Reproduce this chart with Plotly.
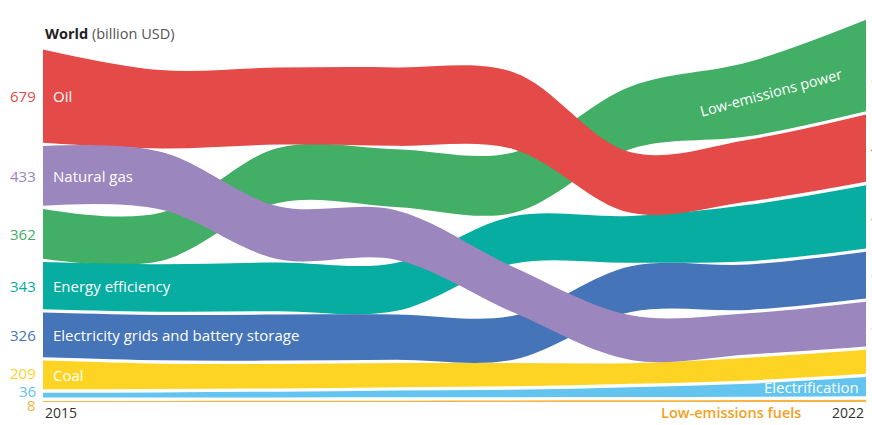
import plotly.graph_objects as go

# ---------------- data (billion USD) ----------------
years = [2015, 2016, 2017, 2018, 2019, 2020, 2021, 2022]

oil          = [679, 570, 560, 570, 560, 440, 450, 490]
natural_gas  = [433, 420, 385, 360, 330, 325, 300, 325]
low_em_power = [362, 350, 400, 420, 440, 455, 540, 665]
efficiency   = [343, 345, 355, 350, 345, 340, 410, 460]
grids        = [326, 330, 335, 330, 320, 333, 330, 340]
coal         = [209, 185, 178, 175, 170, 150, 165, 175]
electrification = [36, 38, 42, 50, 55, 72, 95, 140]
low_em_fuels = [8, 8, 9, 10, 11, 12, 14, 17]

names = ["Low-emissions power", "Energy efficiency", "Electricity grids and battery storage",
         "Coal", "Electrification", "Low-emissions fuels", "Oil", "Natural gas"]
series = {
    "Oil": oil,
    "Natural gas": natural_gas,
    "Low-emissions power": low_em_power,
    "Energy efficiency": efficiency,
    "Electricity grids and battery storage": grids,
    "Coal": coal,
    "Electrification": electrification,
    "Low-emissions fuels": low_em_fuels,
}
colors = {
    "Oil": "#e34a48",
    "Natural gas": "#9b86be",
    "Low-emissions power": "#42ae66",
    "Energy efficiency": "#06ada0",
    "Electricity grids and battery storage": "#4574b8",
    "Coal": "#fed424",
    "Electrification": "#62c4ef",
    "Low-emissions fuels": "#f6b443",
}

GAP = 24  # spacing between ribbons in value units

# rank-ordered stacking per year (largest on top)
bottoms = {n: [] for n in series}
tops = {n: [] for n in series}
for i, _ in enumerate(years):
    order = sorted(series, key=lambda n: series[n][i])
    base = 0.0
    for n in order:
        v = series[n][i]
        bottoms[n].append(base)
        tops[n].append(base + v)
        base += v + GAP

fig = go.Figure()
for n in names:
    c = colors[n]
    fig.add_trace(go.Scatter(x=years, y=bottoms[n], mode="lines",
                             line=dict(width=0, color=c, shape="spline", smoothing=1.0),
                             hoverinfo="skip", showlegend=False))
    fig.add_trace(go.Scatter(x=years, y=tops[n], mode="lines",
                             line=dict(width=0, color=c, shape="spline", smoothing=1.0),
                             fill="tonexty", fillcolor=c,
                             hoverinfo="skip", showlegend=False))

FONT = "Open Sans"
ann = []

def mid(n, i):
    return (bottoms[n][i] + tops[n][i]) / 2

# left value labels
left_shift = {"Coal": 2, "Electrification": 4, "Low-emissions fuels": -4}
for n in series:
    ann.append(dict(x=years[0], y=mid(n, 0), xref="x", yref="y", text=str(series[n][0]),
                    showarrow=False, xanchor="right", yanchor="middle", xshift=-5,
                    yshift=left_shift.get(n, 0),
                    font=dict(family=FONT, size=15, color=colors[n])))

# right value labels (cut off by the page edge, like the original)
right_shift = {"Low-emissions power": -15, "Electricity grids and battery storage": 4,
               "Electrification": 7, "Low-emissions fuels": 12}
for n in series:
    ann.append(dict(x=years[-1], y=mid(n, -1), xref="x", yref="y", text=str(series[n][-1]),
                    showarrow=False, xanchor="left", yanchor="middle", xshift=3,
                    yshift=right_shift.get(n, 0),
                    font=dict(family=FONT, size=15, color=colors[n])))

# white names inside ribbons at 2015
for n in ["Oil", "Natural gas", "Energy efficiency", "Electricity grids and battery storage", "Coal"]:
    ann.append(dict(x=years[0], y=mid(n, 0), xref="x", yref="y", text=n,
                    showarrow=False, xanchor="left", yanchor="middle", xshift=8,
                    font=dict(family=FONT, size=15, color="white", weight=500)))

ann.append(dict(x=years[-1], y=mid("Electrification", -1), xref="x", yref="y",
                text="Electrification", showarrow=False, xanchor="right", yanchor="middle",
                xshift=-5, font=dict(family=FONT, size=15, color="white", weight=500)))

ann.append(dict(x=2021.19, y=2250, xref="x", yref="y", text="Low-emissions power",
                showarrow=False, xanchor="center", yanchor="middle", textangle=-15,
                font=dict(family=FONT, size=14.5, color="white", weight=500)))

ann.append(dict(x=2021.46, y=-0.028, xref="x", yref="paper", text="Low-emissions fuels",
                showarrow=False, xanchor="right", yanchor="middle",
                font=dict(family=FONT, size=14.5, color="#f2a21c", weight=600)))

ann.append(dict(x=0, y=-0.026, xref="paper", yref="paper", text="2015",
                showarrow=False, xanchor="left", yanchor="middle",
                font=dict(family=FONT, size=14, color="#333333")))
ann.append(dict(x=1, y=-0.028, xref="paper", yref="paper", text="2022",
                showarrow=False, xanchor="right", yanchor="middle",
                font=dict(family=FONT, size=14, color="#333333")))

ann.append(dict(x=0, y=0.941, xref="paper", yref="paper",
                text="<b>World</b> <span style='color:#555555'>(billion USD)</span>",
                showarrow=False, xanchor="left", yanchor="middle",
                font=dict(family=FONT, size=14.5, color="#222222")))

fig.update_layout(
    width=872, height=425,
    margin=dict(l=43, r=6, t=10, b=23),
    paper_bgcolor="white", plot_bgcolor="white",
    showlegend=False,
    xaxis=dict(range=[2015, 2022], visible=False, fixedrange=True),
    yaxis=dict(range=[0, 392 / 0.1375], visible=False, fixedrange=True),
    annotations=ann,
)

fig.write_html("out.html")
